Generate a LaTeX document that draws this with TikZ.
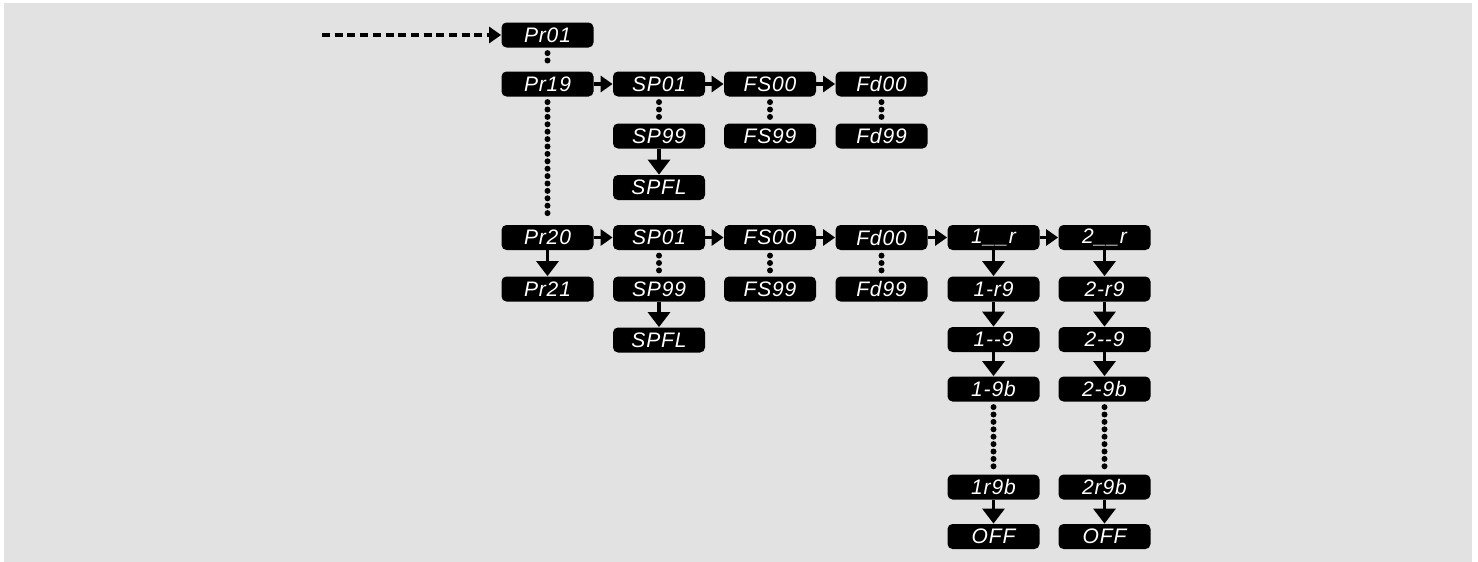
\documentclass[tikz,border=0pt]{standalone}
\usepackage{fontspec}
\newfontfamily\segfont[LetterSpace=4]{Liberation Sans}
\usetikzlibrary{arrows.meta}
\definecolor{bg}{HTML}{E2E2E2}
\begin{document}
\begin{tikzpicture}[x=0.5pt,y=-0.5pt,
 box/.style={fill=black, rounded corners=2.5pt, minimum width=46pt, minimum height=12.5pt, inner sep=0pt, text=white, font=\segfont\itshape\fontsize{10.5}{10.5}\selectfont},
 harr/.style={line width=1.6pt, -{Triangle[length=6pt,width=8pt]}},
 varr/.style={line width=1.6pt, -{Triangle[length=7.5pt,width=11pt]}},
 dots/.style={line width=3pt, line cap=round, dash pattern=on 0pt off 3.7pt, shorten <=2.6pt, shorten >=2.6pt},
 entry/.style={line width=1.7pt, dash pattern=on 4pt off 2.35pt, -{Triangle[length=6pt,width=8pt]}},
]
\useasboundingbox (0,0) rectangle (1478,562);
\fill[white] (0,0) rectangle (1478,562);
\fill[bg] (4,3) rectangle (1472,562);

% column 1
\node[box] (pr01) at (547.5,35) {Pr01};
\node[box] (pr19) at (547.5,84) {Pr19};
\node[box] (pr20) at (547.5,237.5) {Pr20};
\node[box] (pr21) at (547.5,289) {Pr21};

% upper branch
\node[box] (asp01) at (659,84) {SP01};
\node[box] (afs00) at (770,84) {FS00};
\node[box] (afd00) at (881.5,84) {Fd00};
\node[box] (asp99) at (659,136) {SP99};
\node[box] (afs99) at (770,136) {FS99};
\node[box] (afd99) at (881.5,136) {Fd99};
\node[box] (aspfl) at (659,187.5) {SPFL};

% lower branch
\node[box] (bsp01) at (659,237.5) {SP01};
\node[box] (bfs00) at (770,237.5) {FS00};
\node[box] (bfd00) at (881.5,237.5) {Fd00};
\node[box] (bsp99) at (659,289) {SP99};
\node[box] (bfs99) at (770,289) {FS99};
\node[box] (bfd99) at (881.5,289) {Fd99};
\node[box] (bspfl) at (659,340) {SPFL};

% relay columns
\node[box] (ra0) at (993.5,237.5) {1\_\_r};
\node[box] (ra1) at (993.5,289) {1-r9};
\node[box] (ra2) at (993.5,339.5) {1--9};
\node[box] (ra3) at (993.5,389) {1-9b};
\node[box] (ra4) at (993.5,487) {1r9b};
\node[box] (ra5) at (993.5,536.5) {OFF};
\node[box] (rb0) at (1104.5,237.5) {2\_\_r};
\node[box] (rb1) at (1104.5,289) {2-r9};
\node[box] (rb2) at (1104.5,339.5) {2--9};
\node[box] (rb3) at (1104.5,389) {2-9b};
\node[box] (rb4) at (1104.5,487) {2r9b};
\node[box] (rb5) at (1104.5,536.5) {OFF};

% entry
\coordinate (start) at (322,35);
\draw[entry] (start) -- (pr01);

% dotted links
\draw[dots] (pr01) -- (pr19);
\draw[dots] (pr19) -- (pr20);
\draw[dots] (asp01) -- (asp99);
\draw[dots] (afs00) -- (afs99);
\draw[dots] (afd00) -- (afd99);
\draw[dots] (bsp01) -- (bsp99);
\draw[dots] (bfs00) -- (bfs99);
\draw[dots] (bfd00) -- (bfd99);
\draw[dots] (ra3) -- (ra4);
\draw[dots] (rb3) -- (rb4);

% horizontal arrows
\draw[harr] (pr19) -- (asp01);
\draw[harr] (asp01) -- (afs00);
\draw[harr] (afs00) -- (afd00);
\draw[harr] (pr20) -- (bsp01);
\draw[harr] (bsp01) -- (bfs00);
\draw[harr] (bfs00) -- (bfd00);
\draw[harr] (bfd00) -- (ra0);
\draw[harr] (ra0) -- (rb0);

% vertical arrows
\draw[varr] (asp99) -- (aspfl);
\draw[varr] (bsp99) -- (bspfl);
\draw[varr] (pr20) -- (pr21);
\draw[varr] (ra0) -- (ra1);
\draw[varr] (ra1) -- (ra2);
\draw[varr] (ra2) -- (ra3);
\draw[varr] (ra4) -- (ra5);
\draw[varr] (rb0) -- (rb1);
\draw[varr] (rb1) -- (rb2);
\draw[varr] (rb2) -- (rb3);
\draw[varr] (rb4) -- (rb5);
\end{tikzpicture}
\end{document}
